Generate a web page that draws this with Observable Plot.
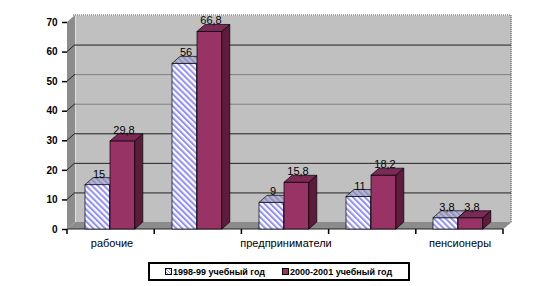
<!DOCTYPE html>
<html><head><meta charset="utf-8">
<script src="https://cdn.jsdelivr.net/npm/d3@7"></script>
<script src="https://cdn.jsdelivr.net/npm/@observablehq/plot@0.6"></script>
<style>
body{margin:0;background:#fff;font-family:"Liberation Sans",Arial,sans-serif;position:relative;width:557px;height:286px;overflow:hidden}
#chart svg{display:block}
#legend{position:absolute;left:148px;top:262px;width:258px;height:15px;border:2px solid #000;font:bold 9px "Liberation Sans",Arial,sans-serif;display:flex;align-items:center;color:#000;white-space:nowrap}
#legend .sw{display:inline-block;width:5px;height:5px;border:1px solid #000;margin-right:1px}
</style></head><body>
<div id="chart"></div>
<div id="legend"></div>
<script>
// ---- data ----
const categories = ["рабочие", "группа 2", "предприниматели", "группа 4", "пенсионеры"];
const tickLabels = ["рабочие", "", "предприниматели", "", "пенсионеры"];
const series = ["1998-99 учебный год", "2000-2001 учебный год"];
const values1998 = [15, 56, 9, 11, 3.8];
const values2000 = [29.8, 66.8, 15.8, 18.2, 3.8];
const yTicks = [0, 10, 20, 30, 40, 50, 60, 70];

// ---- layout ----
const W = 557, H = 258, mL = 67, mR = 54, mT = 22, mB = 29;
const DX = 8, DY = 7;
const bw = (W - mL - mR) / categories.length;
const fmt = v => String(v).replace(".", ",");
const labelMap = new Map(categories.map((c, i) => [c, tickLabels[i]]));
const rows1 = categories.map((c, i) => ({cat: c, v: values1998[i]}));
const rows2 = categories.map((c, i) => ({cat: c, v: values2000[i]}));

const chart = Plot.plot({
  width: W, height: H, marginLeft: mL, marginRight: mR, marginTop: mT, marginBottom: mB,
  style: {fontFamily: '"Liberation Sans", Arial, sans-serif', background: "transparent", color: "#000", overflow: "visible"},
  x: {domain: categories, padding: 0, axis: null},
  y: {domain: [0, 70], axis: null},
  marks: [
    Plot.frame({fill: "#c0c0c0", stroke: null, dx: DX, dy: -DY}),
    Plot.gridY([10, 20, 30, 60], {stroke: "#222", strokeOpacity: 1, strokeWidth: 1, dx: DX, dy: -DY}),
    Plot.gridY([40, 50], {stroke: "#808080", strokeOpacity: 1, strokeWidth: 1, dx: DX, dy: -DY}),
    Plot.barY(rows1, {x: "cat", y: "v", fill: "url(#hatch)", stroke: "#000", strokeWidth: 0.7, insetLeft: 17, insetRight: bw - 42}),
    Plot.barY(rows2, {x: "cat", y: "v", fill: "#993366", stroke: "#000", strokeWidth: 0.7, insetLeft: 42, insetRight: bw - 67}),
    Plot.text(rows1, {x: "cat", y: "v", text: d => fmt(d.v), dx: -13, dy: -11, fontSize: 11}),
    Plot.text(rows2, {x: "cat", y: "v", text: d => fmt(d.v), dx: 12, dy: -11, fontSize: 11}),
    Plot.axisY({ticks: yTicks, label: null, tickSize: 5, tickPadding: 5, fontWeight: "bold", fontSize: 10, strokeWidth: 1.5, tickFormat: d => String(d)}),
    Plot.axisX({label: null, tickSize: 0, tickPadding: 10, fontSize: 11, tickFormat: d => labelMap.get(d)})
  ]
});
document.getElementById("chart").appendChild(chart);

// ---- 3D decorations ----
const svg = d3.select(chart);
const ys = chart.scale("y");
const x0 = mL, x1 = W - mR, yb = ys.apply(0), yt = ys.apply(70);

const defs = svg.insert("defs", ":first-child");
function hatch(id, bg, fg) {
  const p = defs.append("pattern").attr("id", id).attr("width", 4.2).attr("height", 4.2)
    .attr("patternUnits", "userSpaceOnUse").attr("patternTransform", "rotate(-45)");
  p.append("rect").attr("width", 4.2).attr("height", 4.2).attr("fill", bg);
  p.append("rect").attr("width", 2).attr("height", 4.2).attr("fill", fg);
}
hatch("hatch", "#ffffff", "#8f8fff");
hatch("hatchTop", "#b8b8cc", "#9090c4");
hatch("hatchSide", "#d8d8f0", "#7070d0");

const frameEl = chart.querySelector('[aria-label="frame"]');
const walls = d3.create("svg:g");
const pts = a => a.map(p => p.join(",")).join(" ");
walls.append("polygon").attr("points", pts([[x0, yb], [x0, yt], [x0 + DX, yt - DY], [x0 + DX, yb - DY]])).attr("fill", "#8c8c8c");
walls.append("polygon").attr("points", pts([[x0, yb], [x0 + DX, yb - DY], [x1 + DX, yb - DY], [x1, yb]])).attr("fill", "#8c8c8c");
yTicks.filter(v => v > 0 && v < 70).forEach(v => {
  walls.append("line").attr("x1", x0).attr("y1", ys.apply(v)).attr("x2", x0 + DX).attr("y2", ys.apply(v) - DY)
    .attr("stroke", "#222").attr("stroke-width", 1);
});
walls.append("line").attr("x1", x0).attr("x2", x1).attr("y1", yb).attr("y2", yb).attr("stroke", "#222").attr("stroke-width", 1);
walls.append("path").attr("d", `M${x0 + DX - 2},${yt - DY}H${x1 + DX}V${yb - DY}L${x1},${yb}`)
  .attr("fill", "none").attr("stroke", "#555").attr("stroke-dasharray", "1,1");
for (let i = 0; i <= categories.length; i++) {
  const xx = x0 + i * bw;
  walls.append("line").attr("x1", xx).attr("x2", xx).attr("y1", yb).attr("y2", yb + 5).attr("stroke", "#000").attr("stroke-width", 1.5);
}
if (frameEl) frameEl.after(walls.node()); else svg.node().insertBefore(walls.node(), defs.node().nextSibling);

const faces = [{top: "url(#hatchTop)", side: "url(#hatchSide)"}, {top: "#7a2a55", side: "#5e1c3c"}];
chart.querySelectorAll('g[aria-label="bar"]').forEach((g, k) => {
  Array.from(g.querySelectorAll("rect")).forEach(r => {
    const x = +r.getAttribute("x"), y = +r.getAttribute("y"), w = +r.getAttribute("width"), h = +r.getAttribute("height");
    const gs = d3.select(g);
    gs.append("polygon").attr("points", pts([[x + w, y], [x + w + DX, y - DY], [x + w + DX, y + h - DY], [x + w, y + h]]))
      .attr("fill", faces[k].side).attr("stroke", "#000").attr("stroke-width", 0.7);
    gs.append("polygon").attr("points", pts([[x, y], [x + DX, y - DY], [x + w + DX, y - DY], [x + w, y]]))
      .attr("fill", faces[k].top).attr("stroke", "#000").attr("stroke-width", 0.7);
  });
});

// ---- legend ----
const legend = d3.select("#legend");
const swFills = ["repeating-linear-gradient(45deg,#fff 0 1px,#8f8fff 1px 2px)", "#993366"];
series.forEach((s, i) => {
  legend.append("span").attr("class", "sw").style("margin-left", i === 0 ? "15px" : "17px").style("background", swFills[i]);
  legend.append("span").text(s);
});
</script>
</body></html>
